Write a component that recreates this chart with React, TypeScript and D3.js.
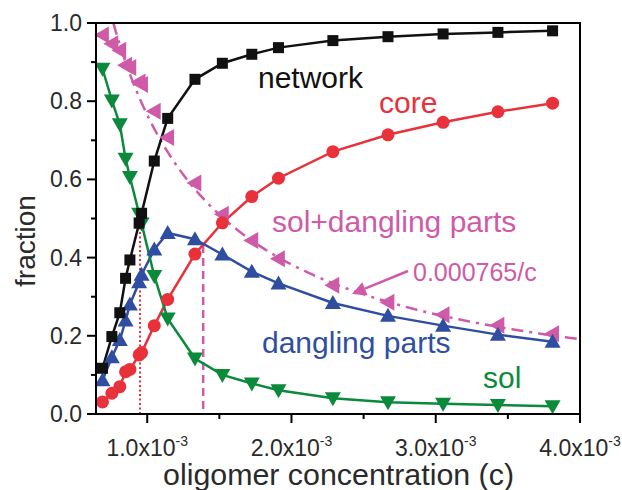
import React from "react";
import * as d3 from "d3";

// Oligomer concentration (c) at which each fraction was computed
const conc = [
  0.00069, 0.000755, 0.00081, 0.00085, 0.00088, 0.000944, 0.000961, 0.001049,
  0.001142, 0.001331, 0.001521, 0.001725, 0.00191, 0.002287, 0.002669,
  0.003051, 0.003431, 0.00381,
];
const network = [
  0.117, 0.198, 0.259, 0.347, 0.394, 0.488, 0.513, 0.647, 0.756, 0.856, 0.897,
  0.92, 0.937, 0.955, 0.965, 0.972, 0.976, 0.98,
];
const core = [
  0.031, 0.053, 0.07, 0.108, 0.114, 0.151, 0.157, 0.226, 0.293, 0.409, 0.489,
  0.556, 0.603, 0.671, 0.714, 0.746, 0.773, 0.795,
];
const dangling = [
  0.086, 0.145, 0.189, 0.239, 0.28, 0.337, 0.356, 0.421, 0.463, 0.447, 0.408,
  0.364, 0.334, 0.284, 0.251, 0.226, 0.203, 0.185,
];
const sol = [
  0.883, 0.802, 0.741, 0.653, 0.606, 0.512, 0.487, 0.353, 0.244, 0.142, 0.1,
  0.078, 0.061, 0.04, 0.03, 0.026, 0.023, 0.02,
];
const solDangling = [
  0.969, 0.947, 0.93, 0.892, 0.886, 0.849, 0.843, 0.774, 0.707, 0.591, 0.511,
  0.444, 0.397, 0.329, 0.286, 0.254, 0.227, 0.205,
];

// Fitted curve coefficient: fraction = K / c
const K = 0.000765;
// Vertical guides: gel point and the core/dangling crossover
const gelPoint = { c: 0.00095, f: 0.5 };
const crossover = { c: 0.001388, f: 0.432 };

const yMajor = [0, 0.2, 0.4, 0.6, 0.8, 1.0];
const yMinor = [0.1, 0.3, 0.5, 0.7, 0.9];
const xMajor = [0.001, 0.002, 0.003, 0.004];
const xMinor = [0.0015, 0.0025, 0.0035];

const COLORS = {
  network: "#111111",
  core: "#e8313a",
  dangling: "#2f4ea2",
  sol: "#0b8a3c",
  solDangling: "#cf5aa8",
};

const FONT = "'Liberation Sans', Arial, Helvetica, sans-serif";

const W = 622;
const H = 490;
const M = { left: 96, right: 580, top: 23, bottom: 414 };

export default function App() {
  const x = d3.scaleLinear().domain([0.000645, 0.004]).range([M.left, M.right]);
  const y = d3.scaleLinear().domain([0, 1]).range([M.bottom, M.top]);

  const pts = (vals: number[]) => conc.map((c, i) => [c, vals[i]] as [number, number]);
  const line = d3
    .line<[number, number]>()
    .x((d) => x(d[0]))
    .y((d) => y(d[1]));

  const curveC = d3.range(K, 0.004 + 1e-9, (0.004 - K) / 200);
  const curvePath = line(curveC.map((c) => [c, K / c] as [number, number]));

  const sq = 11;
  const tri = (cx: number, cy: number, dir: "up" | "down" | "left", s = 8) => {
    if (dir === "up") return `M${cx},${cy - s} L${cx + s},${cy + s * 0.75} L${cx - s},${cy + s * 0.75}Z`;
    if (dir === "down") return `M${cx},${cy + s} L${cx + s},${cy - s * 0.75} L${cx - s},${cy - s * 0.75}Z`;
    return `M${cx - s},${cy} L${cx + s * 0.75},${cy - s} L${cx + s * 0.75},${cy + s}Z`;
  };

  // Arrow from the K/c label down to the curve
  const arrowTail: [number, number] = [408, 271];
  const arrowHead: [number, number] = [352, 294];
  const ang = Math.atan2(arrowHead[1] - arrowTail[1], arrowHead[0] - arrowTail[0]);
  const ah = 14, aw = 7;
  const bx = arrowHead[0] - ah * Math.cos(ang);
  const by = arrowHead[1] - ah * Math.sin(ang);
  const headPath = `M${arrowHead[0]},${arrowHead[1]} L${bx + aw * Math.sin(ang)},${by - aw * Math.cos(ang)} L${bx - aw * Math.sin(ang)},${by + aw * Math.cos(ang)}Z`;

  return (
    <svg
      width={W}
      height={H}
      style={{ position: "absolute", left: 0, top: 0, background: "#fff" }}
      fontFamily={FONT}
    >
      <rect width={W} height={H} fill="#fff" />

      {/* vertical guides */}
      <line
        x1={x(gelPoint.c)} x2={x(gelPoint.c)} y1={y(gelPoint.f)} y2={y(0)}
        stroke={COLORS.core} strokeWidth={2} strokeDasharray="2,2.5"
      />
      <line
        x1={x(crossover.c)} x2={x(crossover.c)} y1={y(crossover.f)} y2={y(0)}
        stroke={COLORS.solDangling} strokeWidth={2.5} strokeDasharray="8,5"
      />

      {/* K/c curve */}
      <path d={curvePath ?? ""} fill="none" stroke={COLORS.solDangling} strokeWidth={2.5} strokeDasharray="12,6,3,6" />

      {/* series lines */}
      <path d={line(pts(network)) ?? ""} fill="none" stroke={COLORS.network} strokeWidth={2.5} />
      <path d={line(pts(core)) ?? ""} fill="none" stroke={COLORS.core} strokeWidth={2.5} />
      <path d={line(pts(dangling)) ?? ""} fill="none" stroke={COLORS.dangling} strokeWidth={2.5} />
      <path d={line(pts(sol)) ?? ""} fill="none" stroke={COLORS.sol} strokeWidth={2.5} />

      {/* markers */}
      {pts(solDangling).map((d, i) => (
        <path key={"sd" + i} d={tri(x(d[0]), y(d[1]), "left", 8.5)} fill={COLORS.solDangling} />
      ))}
      {pts(sol).map((d, i) => (
        <path key={"s" + i} d={tri(x(d[0]), y(d[1]), "down")} fill={COLORS.sol} />
      ))}
      {pts(dangling).map((d, i) => (
        <path key={"dg" + i} d={tri(x(d[0]), y(d[1]), "up")} fill={COLORS.dangling} />
      ))}
      {pts(core).map((d, i) => (
        <circle key={"c" + i} cx={x(d[0])} cy={y(d[1])} r={6.5} fill={COLORS.core} />
      ))}
      {pts(network).map((d, i) => (
        <rect key={"n" + i} x={x(d[0]) - sq / 2} y={y(d[1]) - sq / 2} width={sq} height={sq} fill={COLORS.network} />
      ))}

      {/* arrow */}
      <line x1={arrowTail[0]} y1={arrowTail[1]} x2={bx} y2={by} stroke={COLORS.solDangling} strokeWidth={2.5} />
      <path d={headPath} fill={COLORS.solDangling} />

      {/* frame */}
      <rect
        x={M.left} y={M.top} width={M.right - M.left} height={M.bottom - M.top}
        fill="none" stroke="#000" strokeWidth={2}
      />

      {/* y ticks */}
      {yMajor.map((v) => (
        <g key={"ym" + v}>
          <line x1={M.left - 9} x2={M.left} y1={y(v)} y2={y(v)} stroke="#000" strokeWidth={2} />
          <text x={M.left - 14} y={y(v)} dy="0.35em" textAnchor="end" fontSize={23} fill="#2a2a2a">
            {v.toFixed(1)}
          </text>
        </g>
      ))}
      {yMinor.map((v) => (
        <line key={"yn" + v} x1={M.left - 5} x2={M.left} y1={y(v)} y2={y(v)} stroke="#000" strokeWidth={2} />
      ))}

      {/* x ticks */}
      {xMajor.map((v) => (
        <g key={"xm" + v}>
          <line x1={x(v)} x2={x(v)} y1={M.bottom} y2={M.bottom + 9} stroke="#000" strokeWidth={2} />
          <text x={x(v)} y={M.bottom + 42} textAnchor="middle" fontSize={23} fill="#2a2a2a">
            {(v * 1000).toFixed(1)}x10
            <tspan fontSize={14} dy={-10}>-3</tspan>
          </text>
        </g>
      ))}
      {xMinor.map((v) => (
        <line key={"xn" + v} x1={x(v)} x2={x(v)} y1={M.bottom} y2={M.bottom + 5} stroke="#000" strokeWidth={2} />
      ))}

      {/* axis titles */}
      <text
        x={163} y={485} fontSize={29} fill="#2a2a2a"
        textLength={351} lengthAdjust="spacingAndGlyphs"
      >
        oligomer concentration (c)
      </text>
      <text
        transform={`translate(35,241) rotate(-90)`}
        textAnchor="middle" fontSize={28} fill="#2a2a2a"
      >
        fraction
      </text>

      {/* series labels */}
      <text x={258} y={88} fontSize={30} fill={COLORS.network}>network</text>
      <text x={379} y={113} fontSize={30} fill={COLORS.core}>core</text>
      <text x={272} y={232} fontSize={30} fill={COLORS.solDangling}>sol+dangling parts</text>
      <text x={413} y={281} fontSize={25} fill={COLORS.solDangling}>0.000765/c</text>
      <text x={262} y={353} fontSize={30} fill={COLORS.dangling}>dangling parts</text>
      <text x={483} y={388} fontSize={30} fill={COLORS.sol}>sol</text>
    </svg>
  );
}
